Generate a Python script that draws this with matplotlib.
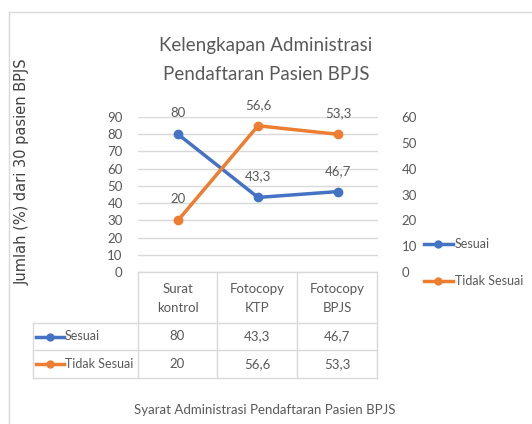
import matplotlib.pyplot as plt
from matplotlib.lines import Line2D

# data
categories = ["Surat\nkontrol", "Fotocopy\nKTP", "Fotocopy\nBPJS"]
sesuai = [80, 43.3, 46.7]
tidak_sesuai = [20, 56.6, 53.3]
series_names = ["Sesuai", "Tidak Sesuai"]

BLUE = "#4472C4"
ORANGE = "#ED7D31"
TXT = "#595959"
GRID = "#D9D9D9"
FS = 9.5

plt.rcParams["font.family"] = ["Lato", "DejaVu Sans"]

W, H = 532, 424
fig = plt.figure(figsize=(W / 100, H / 100), dpi=100)


def fx(px):
    return px / W


def fy(py):
    return 1 - py / H


def fmt(v):
    return f"{v:g}".replace(".", ",")


# chart border
fig.add_artist(Line2D([fx(9), fx(531)], [fy(12), fy(12)], color=GRID, lw=1))
fig.add_artist(Line2D([fx(9), fx(9)], [fy(12), fy(424)], color=GRID, lw=1))

# plot area
ax = fig.add_axes([fx(138), fy(272), fx(378) - fx(138), fy(117) - fy(272)])
ax2 = ax.twinx()
x = list(range(len(categories)))

ax.plot(x, sesuai, color=BLUE, lw=2.5, marker="o", ms=6, zorder=3)
ax2.plot(x, tidak_sesuai, color=ORANGE, lw=2.5, marker="o", ms=6, zorder=3)

ax.set_xlim(-0.5, len(categories) - 0.5)
ax.set_ylim(0, 90)
ax.set_yticks(range(0, 91, 10))
ax2.set_ylim(0, 60)
ax2.set_yticks(range(0, 61, 10))
ax.set_xticks([])
ax.yaxis.grid(True, color=GRID, lw=1)
ax.set_axisbelow(True)
for a in (ax, ax2):
    for s in a.spines.values():
        s.set_visible(False)
    a.tick_params(length=0, labelsize=FS, labelcolor=TXT)
ax.tick_params(axis="y", pad=11)
ax2.tick_params(axis="y", pad=17)

for xi, v in zip(x, sesuai):
    ax.annotate(fmt(v), (xi, v), xytext=(0, 15), textcoords="offset points",
                ha="center", va="center", fontsize=FS, color=TXT)
for xi, v in zip(x, tidak_sesuai):
    ax2.annotate(fmt(v), (xi, v), xytext=(0, 15), textcoords="offset points",
                 ha="center", va="center", fontsize=FS, color=TXT)

# title and axis labels
fig.text(fx(266), fy(45), "Kelengkapan Administrasi", ha="center", va="center",
         fontsize=13.5, color=TXT)
fig.text(fx(266), fy(75), "Pendaftaran Pasien BPJS", ha="center", va="center",
         fontsize=13.5, color=TXT)
fig.text(fx(22), fy(172), "Jumlah (%) dari 30 pasien BPJS", rotation=90,
         ha="center", va="center", fontsize=10.5, color="#404040",
         family=["DejaVu Sans"])
fig.text(fx(265), fy(410), "Syarat Administrasi Pendaftaran Pasien BPJS",
         ha="center", va="center", fontsize=FS, color=TXT)

# data table
col_edges = [138, 217, 297, 377]
row_edges = [272, 323, 350, 378]
left_edge = 33


def hline(py, x0, x1):
    fig.add_artist(Line2D([fx(x0), fx(x1)], [fy(py), fy(py)], color=GRID, lw=1))


def vline(px, y0, y1):
    fig.add_artist(Line2D([fx(px), fx(px)], [fy(y0), fy(y1)], color=GRID, lw=1))


hline(row_edges[0], col_edges[0], col_edges[-1])
for py in row_edges[1:]:
    hline(py, left_edge, col_edges[-1])
for px in col_edges:
    vline(px, row_edges[0], row_edges[-1])
vline(left_edge, row_edges[1], row_edges[-1])

for i, cat in enumerate(categories):
    cx = (col_edges[i] + col_edges[i + 1]) / 2
    fig.text(fx(cx), fy((row_edges[0] + row_edges[1]) / 2 + 1), cat, ha="center",
             va="center", fontsize=FS, color=TXT, linespacing=1.7)

for r, (name, vals, col) in enumerate(zip(series_names, [sesuai, tidak_sesuai],
                                         [BLUE, ORANGE])):
    cy = (row_edges[r + 1] + row_edges[r + 2]) / 2
    fig.add_artist(Line2D([fx(36), fx(64)], [fy(cy), fy(cy)], color=col, lw=2.5))
    fig.add_artist(Line2D([fx(50)], [fy(cy)], color=col, marker="o", ms=5))
    fig.text(fx(65), fy(cy), name, ha="left", va="center", fontsize=9, color=TXT)
    for i, v in enumerate(vals):
        cx = (col_edges[i] + col_edges[i + 1]) / 2
        fig.text(fx(cx), fy(cy), fmt(v), ha="center", va="center", fontsize=FS,
                 color=TXT)

# legend
handles = [Line2D([], [], color=BLUE, lw=2.5, marker="o", ms=5),
           Line2D([], [], color=ORANGE, lw=2.5, marker="o", ms=5)]
leg = fig.legend(handles, series_names, loc="upper left",
                 bbox_to_anchor=(fx(424), fy(238)), frameon=False, fontsize=9,
                 handlelength=2.3, handletextpad=0.15, labelspacing=2.0,
                 borderaxespad=0, borderpad=0)
for t in leg.get_texts():
    t.set_color(TXT)

fig.savefig("out.png", dpi=100)
